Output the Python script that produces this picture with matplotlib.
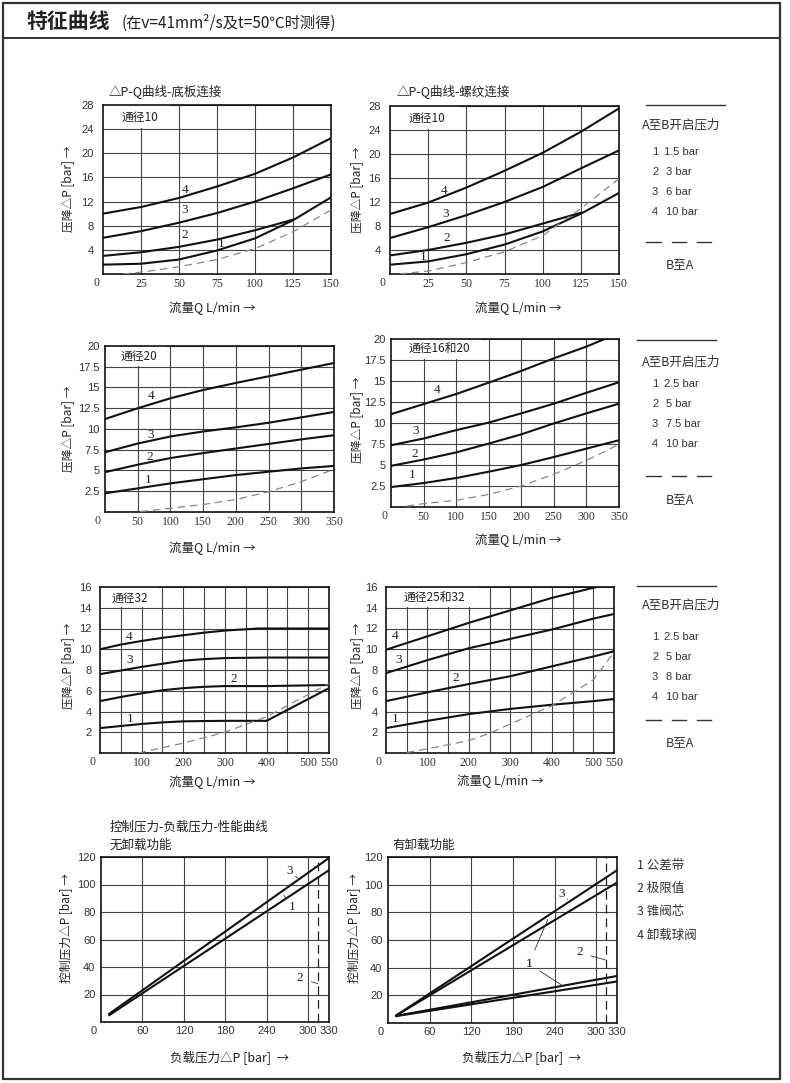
import numpy as np
import matplotlib
matplotlib.use('Agg')
import matplotlib.pyplot as plt
from matplotlib.patches import Rectangle

plt.rcParams['font.family'] = ['Noto Sans CJK SC', 'DejaVu Sans']

W, H = 790, 1083

# ---------------- data ----------------
# panel 1: dP-Q, sub-plate, size 10
p1_x = [0, 25, 50, 75, 100, 125, 150]
p1_c4 = [10, 11.1, 12.6, 14.5, 16.6, 19.3, 22.5]
p1_c3 = [6, 7.1, 8.5, 10.1, 12, 14.2, 16.5]
p1_c2_x = [0, 25, 50, 75, 100, 125]
p1_c2 = [3.0, 3.6, 4.5, 5.7, 7.25, 9.0]
p1_c1 = [1.55, 1.7, 2.4, 3.9, 5.9, 8.9, 12.7]
p1_ba_x = [13, 25, 50, 75, 100, 125, 150]
p1_ba = [0, 0.3, 1.2, 2.4, 4.2, 7.0, 10.6]

# panel 2: dP-Q, threaded, size 10
p2_x = [0, 25, 50, 75, 100, 125, 150]
p2_c4 = [10, 11.9, 14.4, 17.2, 20.2, 23.7, 27.6]
p2_c3 = [6, 7.8, 9.8, 12, 14.5, 17.6, 20.6]
p2_c2_x = [0, 25, 50, 75, 100, 125]
p2_c2 = [3.1, 4.0, 5.2, 6.6, 8.4, 10.2]
p2_c1 = [1.55, 2.1, 3.3, 4.9, 7.1, 10.05, 13.5]
p2_ba_x = [6, 25, 50, 75, 100, 125, 150]
p2_ba = [0, 0.5, 1.9, 3.7, 6.4, 10.9, 15.9]

# panel 3: size 20
p3_x = [0, 50, 100, 150, 200, 250, 300, 350]
p3_c4 = [11.2, 12.5, 13.7, 14.7, 15.55, 16.35, 17.15, 17.95]
p3_c3 = [7.2, 8.25, 9.1, 9.7, 10.2, 10.75, 11.4, 12.05]
p3_c2 = [4.8, 5.7, 6.5, 7.1, 7.65, 8.2, 8.75, 9.25]
p3_c1 = [2.25, 2.85, 3.45, 3.95, 4.45, 4.85, 5.25, 5.55]
p3_ba_x = [54, 100, 150, 200, 250, 300, 350]
p3_ba = [0.05, 0.45, 0.9, 1.5, 2.45, 3.65, 5.15]

# panel 4: size 16 and 20
p4_x = [0, 50, 100, 150, 200, 250, 300, 350]
p4_c4_x = [0, 50, 100, 150, 200, 250, 300, 328]
p4_c4 = [11.05, 12.25, 13.45, 14.8, 16.2, 17.7, 19.1, 20]
p4_c3 = [7.35, 8.15, 9.15, 10.05, 11.15, 12.3, 13.6, 14.85]
p4_c2 = [4.9, 5.65, 6.5, 7.55, 8.65, 9.95, 11.15, 12.3]
p4_c1_x = [3, 50, 100, 150, 200, 250, 300, 350]
p4_c1 = [2.4, 2.85, 3.45, 4.2, 5.0, 5.95, 6.95, 7.95]
p4_ba_x = [24, 50, 100, 150, 200, 250, 300, 350]
p4_ba = [0.1, 0.4, 0.8, 1.5, 2.5, 3.9, 5.55, 7.45]

# panel 5: size 32
p5_c4_x = [0, 50, 100, 150, 200, 250, 300, 380, 550]
p5_c4 = [10, 10.45, 10.8, 11.1, 11.35, 11.6, 11.8, 12, 12]
p5_x = [0, 50, 100, 150, 200, 250, 300, 400, 550]
p5_c3 = [7.6, 7.95, 8.3, 8.6, 8.9, 9.05, 9.15, 9.2, 9.2]
p5_c2 = [5.0, 5.4, 5.75, 6.05, 6.25, 6.38, 6.45, 6.45, 6.55]
p5_c1 = [2.4, 2.6, 2.8, 2.95, 3.05, 3.08, 3.1, 3.1, 6.25]
p5_ba_x = [92, 200, 300, 400, 550]
p5_ba = [0, 0.95, 2.0, 3.5, 6.7]

# panel 6: size 25 and 32
p6_c4_x = [0, 100, 200, 300, 400, 508]
p6_c4 = [9.95, 11.25, 12.55, 13.75, 14.95, 16]
p6_x = [0, 100, 200, 300, 400, 500, 550]
p6_c3 = [7.7, 8.95, 10.1, 11, 11.9, 12.95, 13.4]
p6_c2 = [5.0, 5.85, 6.65, 7.4, 8.35, 9.3, 9.8]
p6_c1 = [2.4, 3.1, 3.75, 4.25, 4.65, 5.0, 5.2]
p6_ba_x = [50, 100, 200, 250, 300, 400, 500, 550]
p6_ba = [0.05, 0.4, 1.2, 1.9, 2.8, 4.55, 7.05, 9.7]

# panel 7: control pressure vs load pressure, no unloading
p7_x = [12, 330]
p7_c3 = [6, 119.3]
p7_c1 = [5, 110.4]
p7_limit = 314

# panel 8: with unloading
p8_x = [12, 330]
p8_a = [5.5, 110.4]
p8_b = [5.5, 101.5]
p8_c = [5.2, 34]
p8_d = [5.0, 30]
p8_limit = 314.5

legend_rows = [
    ['1.5 bar', '3 bar', '6 bar', '10 bar'],
    ['2.5 bar', '5 bar', '7.5 bar', '10 bar'],
    ['2.5 bar', '5 bar', '8 bar', '10 bar'],
]
legend4 = ['公差带', '极限值', '锥阀芯', '卸载球阀']

# ---------------- figure ----------------
fig = plt.figure(figsize=(W / 100, H / 100), dpi=100)
bg = fig.add_axes([0, 0, 1, 1])
bg.set_xlim(0, W)
bg.set_ylim(H, 0)
bg.axis('off')

# outer frame and header line
bg.add_patch(Rectangle((3, 3), 777, 1076, fill=False, lw=1.6, ec='#333333'))
bg.plot([3, 780], [38, 38], color='#333333', lw=1.4)
bg.text(27, 21, '特征曲线', fontsize=15, fontweight='bold', va='center', ha='left', color='#222222')
bg.text(122, 23, '(在v=41mm²/s及t=50℃时测得)', fontsize=11, va='center',
        ha='left', color='#222222')

def px_axes(l, t, r, b):
    return fig.add_axes([l / W, 1 - b / H, (r - l) / W, (b - t) / H])

def setup(ax, xmax, ymax, xticks, xlabels, yticks, ylabels, serif_x=True, ypad=6):
    ax.set_xlim(0, xmax)
    ax.set_ylim(0, ymax)
    ax.set_xticks(xticks)
    ax.set_xticklabels(xlabels, fontsize=8.5 if serif_x else 8,
                       fontfamily='Liberation Serif' if serif_x else 'Liberation Sans',
                       color='#333333')
    ax.set_yticks(yticks)
    ax.set_yticklabels(ylabels, fontsize=8, fontfamily='Liberation Sans',
                       color='#333333')
    ax.tick_params(length=0)
    ax.tick_params(axis='x', pad=3)
    ax.tick_params(axis='y', pad=ypad)
    ax.set_axisbelow(True)
    ax.grid(True, color='#444444', lw=0.8)
    for s in ax.spines.values():
        s.set_linewidth(1.2)
        s.set_color('#111111')
    ax.annotate('0', (0, 0), xycoords='axes fraction', xytext=(-7, -9),
                textcoords='offset pixels', ha='center', va='center',
                fontsize=8.5 if serif_x else 8,
                fontfamily='Liberation Serif' if serif_x else 'Liberation Sans',
                color='#333333')

def label_box(ax, x0, x1, y0, y1, text, tx, ty):
    ax.add_patch(Rectangle((x0, y0), x1 - x0, y1 - y0, fc='white', ec='none', zorder=1.5))
    ax.text(tx, ty, text, fontsize=8.5, va='center', ha='left', zorder=3, color='#222222')

def curve(ax, x, y):
    ax.plot(x, y, color='#111111', lw=1.5, zorder=3)

def dashed(ax, x, y):
    ax.plot(x, y, color='#888888', lw=0.9, ls=(0, (6, 4)), zorder=3)

def num(ax, x, y, s):
    ax.text(x, y, s, fontsize=9.5, fontfamily='Liberation Serif', ha='center',
            va='center', color='#222222', zorder=4)

ylab = '压降△P [bar] →'
xlab = '流量Q L/min →'

# ---- panel 1
ax = px_axes(103, 105, 331, 274)
setup(ax, 150, 28, [25, 50, 75, 100, 125, 150], ['25', '50', '75', '100', '125', '150'],
      range(4, 29, 4), [str(v) for v in range(4, 29, 4)], ypad=6.5)
label_box(ax, 0, 45, 24.2, 28, '通径10', 12, 25.9)
curve(ax, p1_x, p1_c4); curve(ax, p1_x, p1_c3); curve(ax, p1_c2_x, p1_c2); curve(ax, p1_x, p1_c1)
dashed(ax, p1_ba_x, p1_ba)
for s, (x, y) in zip('4321', [(54, 13.9), (54, 10.6), (54, 6.4), (78, 5.0)]):
    num(ax, x, y, s)

# ---- panel 2
ax = px_axes(390, 106, 619, 274)
setup(ax, 150, 28, [25, 50, 75, 100, 125, 150], ['25', '50', '75', '100', '125', '150'],
      range(4, 29, 4), [str(v) for v in range(4, 29, 4)], ypad=6.5)
label_box(ax, 0, 45, 24.2, 28, '通径10', 12, 25.9)
curve(ax, p2_x, p2_c4); curve(ax, p2_x, p2_c3); curve(ax, p2_c2_x, p2_c2); curve(ax, p2_x, p2_c1)
dashed(ax, p2_ba_x, p2_ba)
for s, (x, y) in zip('4321', [(35.5, 13.9), (36.6, 10), (37, 6), (22, 2.8)]):
    num(ax, x, y, s)

bg.text(109, 91, '△P-Q曲线-底板连接', fontsize=9, va='center', ha='left', color='#222222')
bg.text(397, 91, '△P-Q曲线-螺纹连接', fontsize=9, va='center', ha='left', color='#222222')

# ---- panel 3
yt25 = [2.5, 5, 7.5, 10, 12.5, 15, 17.5, 20]
yl25 = ['2.5', '5', '7.5', '10', '12.5', '15', '17.5', '20']
xt350 = [50, 100, 150, 200, 250, 300, 350]
xl350 = ['50', '100', '150', '200', '250', '300', '350']
ax = px_axes(105, 346, 334, 512)
setup(ax, 350, 20, xt350, xl350, yt25, yl25, ypad=4)
label_box(ax, 0, 95, 17.65, 20, '通径20', 24, 18.75)
curve(ax, p3_x, p3_c4); curve(ax, p3_x, p3_c3); curve(ax, p3_x, p3_c2); curve(ax, p3_x, p3_c1)
dashed(ax, p3_ba_x, p3_ba)
for s, (x, y) in zip('4321', [(71, 14), (70, 9.3), (68, 6.65), (66, 3.85)]):
    num(ax, x, y, s)

# ---- panel 4
ax = px_axes(391, 339, 619, 507)
setup(ax, 350, 20, xt350, xl350, yt25, yl25, ypad=4)
label_box(ax, 0, 140, 17.65, 20, '通径16和20', 27, 18.75)
curve(ax, p4_c4_x, p4_c4); curve(ax, p4_x, p4_c3); curve(ax, p4_x, p4_c2); curve(ax, p4_c1_x, p4_c1)
dashed(ax, p4_ba_x, p4_ba)
for s, (x, y) in zip('4321', [(70.6, 13.9), (38, 9), (36, 6.35), (33, 3.8)]):
    num(ax, x, y, s)

# ---- panel 5
xt550 = list(range(50, 551, 50))
xl550 = ['' if v % 100 and v != 550 else str(v) for v in xt550]
ax = px_axes(100, 587, 329, 753)
setup(ax, 550, 16, xt550, xl550, range(2, 17, 2), [str(v) for v in range(2, 17, 2)], ypad=6)
label_box(ax, 0, 140, 14.1, 16, '通径32', 28, 14.95)
curve(ax, p5_c4_x, p5_c4); curve(ax, p5_x, p5_c3); curve(ax, p5_x, p5_c2); curve(ax, p5_x, p5_c1)
dashed(ax, p5_ba_x, p5_ba)
for s, (x, y) in zip('4321', [(70.5, 11.2), (72, 9), (321, 7.1), (72, 3.3)]):
    num(ax, x, y, s)

# ---- panel 6
ax = px_axes(386, 587, 614, 753)
setup(ax, 550, 16, xt550, xl550, range(2, 17, 2), [str(v) for v in range(2, 17, 2)], ypad=6)
label_box(ax, 0, 225, 14.1, 16, '通径25和32', 42, 14.95)
curve(ax, p6_c4_x, p6_c4); curve(ax, p6_x, p6_c3); curve(ax, p6_x, p6_c2); curve(ax, p6_x, p6_c1)
dashed(ax, p6_ba_x, p6_ba)
for s, (x, y) in zip('4321', [(21, 11.25), (30, 9), (169, 7.2), (22.5, 3.3)]):
    num(ax, x, y, s)

for x, y in [(68, 189), (68, 429), (68, 666)]:
    bg.text(x, y, ylab, rotation=90, fontsize=8.5, ha='center', va='center', color='#222222')
for x, y in [(357, 190), (357, 420), (357, 666)]:
    bg.text(x, y, ylab, rotation=90, fontsize=8.5, ha='center', va='center', color='#222222')
for x, y in [(212, 308), (518, 308), (212, 548), (518, 540), (212, 782), (500, 781)]:
    bg.text(x, y, xlab, fontsize=9, ha='center', va='center', color='#222222')

# ---- panel 7
xt330 = [60, 120, 180, 240, 300, 330]
ax = px_axes(101, 857, 329, 1022)
setup(ax, 330, 120, xt330, [str(v) for v in xt330], range(20, 121, 20),
      [str(v) for v in range(20, 121, 20)], serif_x=False, ypad=4)
curve(ax, p7_x, p7_c3); curve(ax, p7_x, p7_c1)
ax.axvline(p7_limit, color='#222222', lw=0.9, ls=(0, (7, 4)), zorder=3)
for s, xy, tip in [('3', (273, 109.5), (287, 103.8)), ('1', (277, 84), (264.5, 92.3)),
                   ('2', (288, 32), (314, 27.8))]:
    ax.annotate(s, xy=tip, xytext=xy, fontsize=9.5, fontfamily='Liberation Serif',
                ha='center', va='center', color='#222222', zorder=4,
                arrowprops=dict(arrowstyle='-', color='#333333', lw=0.6,
                                shrinkA=4, shrinkB=0))

# ---- panel 8
ax = px_axes(388, 857, 617, 1023)
setup(ax, 330, 120, xt330, [str(v) for v in xt330], range(20, 121, 20),
      [str(v) for v in range(20, 121, 20)], serif_x=False, ypad=4)
curve(ax, p8_x, p8_a); curve(ax, p8_x, p8_b); curve(ax, p8_x, p8_c); curve(ax, p8_x, p8_d)
ax.axvline(p8_limit, color='#222222', lw=0.9, ls=(0, (7, 4)), zorder=3)
for s, xy, tip in [('3', (249.5, 93), (259, 89.5)), ('1', (203, 42.7), (230.3, 75)),
                   ('1', (203, 42.7), (253, 26.5)), ('2', (276, 51), (313, 45.6))]:
    ax.annotate(s, xy=tip, xytext=xy, fontsize=9.5, fontfamily='Liberation Serif',
                ha='center', va='center', color='#222222', zorder=4,
                arrowprops=dict(arrowstyle='-', color='#333333', lw=0.6,
                                shrinkA=4, shrinkB=0))

bg.text(110, 827, '控制压力-负载压力-性能曲线', fontsize=9, va='center', ha='left', color='#222222')
bg.text(110, 845, '无卸载功能', fontsize=9, va='center', ha='left', color='#222222')
bg.text(392, 845, '有卸载功能', fontsize=9, va='center', ha='left', color='#222222')
bg.text(67, 928, '控制压力△P [bar] →', rotation=90, fontsize=8.5, ha='center', va='center', color='#222222')
bg.text(355, 928, '控制压力△P [bar] →', rotation=90, fontsize=8.5, ha='center', va='center', color='#222222')
bg.text(230, 1058, '负载压力△P [bar]  →', fontsize=9, ha='center', va='center', color='#222222')
bg.text(522, 1058, '负载压力△P [bar]  →', fontsize=9, ha='center', va='center', color='#222222')

# ---------------- right-hand legends ----------------
legend_y = [(105, 125, [152, 172, 192, 212], 242, 265, (646, 725)),
            (340, 362, [384, 404, 424, 444], 476, 500, (637, 716)),
            (586, 605, [637, 657, 677, 697], 720, 743, (637, 716))]
for vals, (ly, ty, iy, dy, by, (lx0, lx1)) in zip(legend_rows, legend_y):
    bg.plot([lx0, lx1], [ly, ly], color='#333333', lw=1.0)
    bg.text(681, ty, 'A至B开启压力', fontsize=9, ha='center', va='center', color='#333333')
    for i, (v, y) in enumerate(zip(vals, iy)):
        bg.text(652, y, str(i + 1), fontsize=8, fontfamily='Liberation Sans',
                ha='left', va='center', color='#333333')
        bg.text(664 if i == 0 else 666, y, v, fontsize=8, fontfamily='Liberation Sans',
                ha='left', va='center', color='#333333')
    for a, b in [(646, 661), (672, 686), (697, 711)]:
        bg.plot([a, b], [dy, dy], color='#333333', lw=1.0)
    bg.text(680, by, 'B至A', fontsize=9, ha='center', va='center', color='#333333')

for i, (t, y) in enumerate(zip(legend4, [865, 888, 911, 935])):
    bg.text(637, y, f'{i + 1} {t}', fontsize=9, ha='left', va='center', color='#333333')

fig.savefig('out.png', dpi=100)
